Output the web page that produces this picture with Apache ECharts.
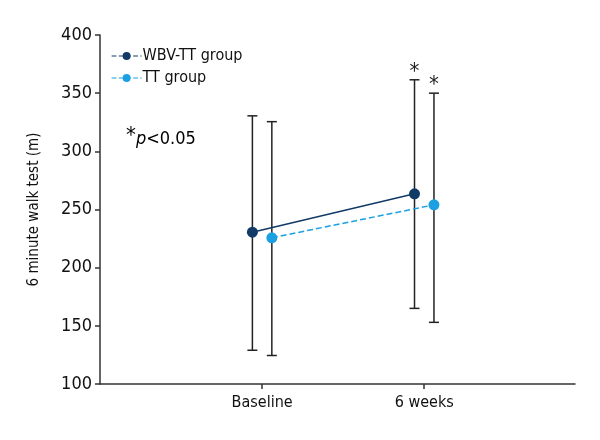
<!DOCTYPE html>
<html><head><meta charset="utf-8">
<script src="https://cdn.jsdelivr.net/npm/echarts@6/dist/echarts.min.js"></script>
<style>html,body{margin:0;padding:0;background:#fff}#c{width:600px;height:440px}</style>
</head><body><div id="c"></div>
<script>
const categories = ['Baseline', '6 weeks'];
const seriesNames = ['WBV-TT group', 'TT group'];
const wbvMean = [230.5, 263.5];
const wbvUpper = [330.5, 361.5];
const wbvLower = [129, 165];
const ttMean = [225.7, 254];
const ttUpper = [325.5, 350];
const ttLower = [124.5, 153];
const significant = [false, true];
const yTicks = [100, 150, 200, 250, 300, 350, 400];

const FONT = '"DejaVu Sans Condensed","Liberation Sans Narrow",sans-serif';
const colWBV = '#123a66', colTT = '#1ba1e2';
const OFF = 0.06;

function pos(i, sign) { return i + 1 + sign * OFF; }
const wbvLine = wbvMean.map((v, i) => [pos(i, -1), v]);
const ttLine = ttMean.map((v, i) => [pos(i, 1), v]);
const errData = [];
categories.forEach((c, i) => {
  errData.push([pos(i, -1), wbvLower[i], wbvUpper[i], significant[i] ? 1 : 0]);
  errData.push([pos(i, 1), ttLower[i], ttUpper[i], significant[i] ? 1 : 0]);
});

const chart = echarts.init(document.getElementById('c'), null, {renderer: 'canvas'});
chart.setOption({
  animation: false,
  backgroundColor: '#fff',
  textStyle: {fontFamily: FONT},
  grid: {left: 100, right: 25, top: 35, bottom: 56},
  legend: {
    left: 106, top: 43, orient: 'vertical', itemGap: 6,
    itemWidth: 30, itemHeight: 10,
    data: seriesNames,
    lineStyle: {type: 'dashed', width: 1.2},
    textStyle: {fontFamily: FONT, fontSize: 16, color: '#111', padding: [0, 0, 0, -4]}
  },
  xAxis: {
    type: 'value', min: 0, max: 2.93, interval: 1,
    splitLine: {show: false},
    axisLine: {lineStyle: {color: '#333', width: 1.5}},
    axisTick: {customValues: [1, 2], length: 5, lineStyle: {color: '#333', width: 1.5}},
    axisLabel: {customValues: [1, 2], formatter: v => categories[Math.round(v) - 1] || '',
      fontFamily: FONT, fontSize: 16, color: '#111', margin: 11}
  },
  yAxis: {
    type: 'value', min: yTicks[0], max: yTicks[yTicks.length - 1], interval: 50,
    name: '6 minute walk test (m)', nameLocation: 'middle', nameGap: 58,
    nameTextStyle: {fontFamily: FONT, fontSize: 15, color: '#111'},
    splitLine: {show: false},
    axisLine: {show: true, lineStyle: {color: '#333', width: 1.5}},
    axisTick: {show: true, length: 5, lineStyle: {color: '#333', width: 1.5}},
    axisLabel: {fontFamily: FONT, fontSize: 18, color: '#111', margin: 8}
  },
  graphic: [{
    type: 'text', left: 126, top: 125,
    style: {
      text: '{a|*}{b|p}{c|<0.05}',
      rich: {
        a: {fontFamily: FONT, fontSize: 22, color: '#111', verticalAlign: 'top', padding: [0, 0, 6, 0]},
        b: {fontFamily: FONT, fontSize: 18, fontStyle: 'italic', color: '#111'},
        c: {fontFamily: FONT, fontSize: 18, color: '#111'}
      }
    }
  }],
  series: [
    {
      type: 'custom', name: 'err', silent: true, z: 1,
      data: errData,
      renderItem: (params, api) => {
        const x = api.value(0);
        const lo = api.coord([x, api.value(1)]);
        const hi = api.coord([x, api.value(2)]);
        const w = 5;
        const st = {stroke: '#222', lineWidth: 1.5};
        const children = [
          {type: 'line', shape: {x1: lo[0], y1: lo[1], x2: hi[0], y2: hi[1]}, style: st},
          {type: 'line', shape: {x1: lo[0] - w, y1: lo[1], x2: lo[0] + w, y2: lo[1]}, style: st},
          {type: 'line', shape: {x1: hi[0] - w, y1: hi[1], x2: hi[0] + w, y2: hi[1]}, style: st}
        ];
        if (api.value(3)) {
          children.push({type: 'text', style: {text: '*', x: hi[0], y: hi[1] + 3, align: 'center',
            verticalAlign: 'bottom', font: '22px ' + FONT, fill: '#222'}});
        }
        return {type: 'group', children};
      }
    },
    {
      type: 'line', name: seriesNames[0], data: wbvLine, z: 3,
      symbol: 'circle', symbolSize: 11,
      lineStyle: {color: colWBV, width: 1.5, type: 'solid'},
      itemStyle: {color: colWBV}
    },
    {
      type: 'line', name: seriesNames[1], data: ttLine, z: 3,
      symbol: 'circle', symbolSize: 11,
      lineStyle: {color: colTT, width: 1.5, type: 'dashed'},
      itemStyle: {color: colTT}
    }
  ]
});
</script></body></html>
